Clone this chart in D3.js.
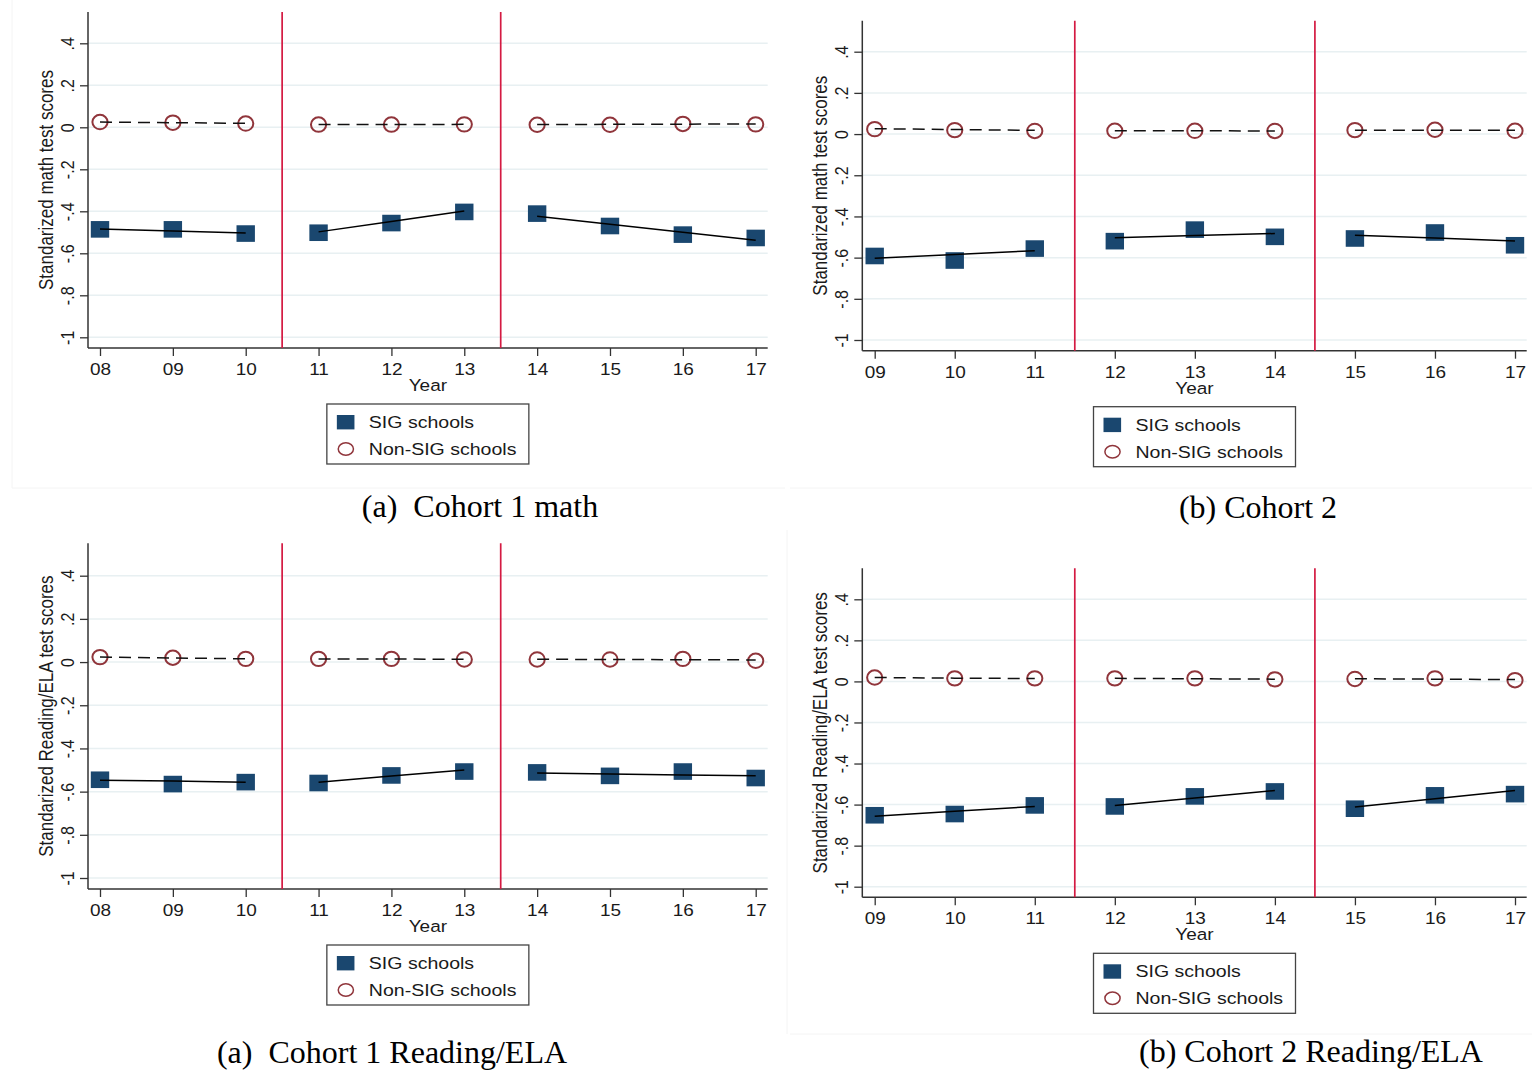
<!DOCTYPE html>
<html>
<head>
<meta charset="utf-8">
<script src="https://cdn.jsdelivr.net/npm/d3@7/dist/d3.min.js"></script>
<style>
  body { margin: 0; background: #fff; }
  svg text { font-family: Arial, "Liberation Sans", sans-serif; fill: #1a1a1a; }
  .caption { font-family: "Times New Roman", "Liberation Serif", serif; fill: #000; white-space: pre; }
</style>
</head>
<body>
<div id="chart"></div>
<script>
// years (two-digit school years) and policy cut points
const years1 = [8, 9, 10, 11, 12, 13, 14, 15, 16, 17];
const years2 = [9, 10, 11, 12, 13, 14, 15, 16, 17];
const cuts1 = [10.5, 13.5];
const cuts2 = [11.5, 14.5];
const yTicks = [-1, -0.8, -0.6, -0.4, -0.2, 0, 0.2, 0.4];

// cohort 1 math: group means and within-period linear fits
const mathC1Sig = [-0.486, -0.486, -0.506, -0.502, -0.456, -0.403, -0.411, -0.470, -0.511, -0.527];
const mathC1SigFit = [-0.484, -0.494, -0.503, -0.498, -0.449, -0.399, -0.424, -0.462, -0.500, -0.538];
const mathC1Non = [0.025, 0.022, 0.018, 0.013, 0.013, 0.014, 0.012, 0.012, 0.016, 0.014];
const mathC1NonFit = [0.025, 0.022, 0.019, 0.013, 0.013, 0.014, 0.013, 0.014, 0.015, 0.016];

// cohort 2 math
const mathC2Sig = [-0.592, -0.614, -0.556, -0.520, -0.464, -0.499, -0.507, -0.478, -0.540];
const mathC2SigFit = [-0.603, -0.585, -0.566, -0.504, -0.493, -0.483, -0.491, -0.505, -0.519];
const mathC2Non = [0.024, 0.019, 0.015, 0.016, 0.016, 0.015, 0.019, 0.021, 0.016];
const mathC2NonFit = [0.026, 0.022, 0.018, 0.016, 0.016, 0.015, 0.019, 0.018, 0.018];

// cohort 1 reading/ELA
const elaC1Sig = [-0.545, -0.565, -0.556, -0.560, -0.525, -0.507, -0.511, -0.527, -0.507, -0.537];
const elaC1SigFit = [-0.547, -0.551, -0.556, -0.557, -0.528, -0.500, -0.514, -0.518, -0.523, -0.527];
const elaC1Non = [0.023, 0.020, 0.015, 0.015, 0.015, 0.012, 0.012, 0.012, 0.015, 0.006];
const elaC1NonFit = [0.023, 0.019, 0.015, 0.014, 0.014, 0.013, 0.013, 0.012, 0.011, 0.010];

// cohort 2 reading/ELA
const elaC2Sig = [-0.652, -0.646, -0.604, -0.609, -0.560, -0.536, -0.620, -0.555, -0.549];
const elaC2SigFit = [-0.657, -0.633, -0.609, -0.604, -0.568, -0.531, -0.612, -0.572, -0.531];
const elaC2Non = [0.019, 0.015, 0.015, 0.015, 0.015, 0.010, 0.012, 0.015, 0.006];
const elaC2NonFit = [0.019, 0.016, 0.014, 0.015, 0.013, 0.011, 0.013, 0.011, 0.009];

const legendLabels = ["SIG schools", "Non-SIG schools"];

const NAVY = "#1a476f", MAROON = "#90353b", CUT = "#d41a42", GRID = "#e8f0f2";
const SX = 1.15; // the figure is stretched horizontally

const panels = [
  { years: years1, cuts: cuts1, sig: mathC1Sig, sigFit: mathC1SigFit, non: mathC1Non, nonFit: mathC1NonFit,
    yTitle: "Standarized math test scores", caption: "(a)  Cohort 1 math", capX: 480, capY: 517,
    x0: 100, x1: 755.7, left: 88, right: 767.7, yLow: 337.3, yHigh: 43.3, top: 12, bottom: 348 },
  { years: years2, cuts: cuts2, sig: mathC2Sig, sigFit: mathC2SigFit, non: mathC2Non, nonFit: mathC2NonFit,
    yTitle: "Standarized math test scores", caption: "(b) Cohort 2", capX: 1258, capY: 518,
    x0: 874.7, x1: 1515, left: 862.3, right: 1526.7, yLow: 340, yHigh: 51.7, top: 20.7, bottom: 350.7 },
  { years: years1, cuts: cuts1, sig: elaC1Sig, sigFit: elaC1SigFit, non: elaC1Non, nonFit: elaC1NonFit,
    yTitle: "Standarized Reading/ELA test scores", caption: "(a)  Cohort 1 Reading/ELA", capX: 392, capY: 1063,
    x0: 100, x1: 755.7, left: 88, right: 767.7, yLow: 878, yHigh: 575.7, top: 543.3, bottom: 889 },
  { years: years2, cuts: cuts2, sig: elaC2Sig, sigFit: elaC2SigFit, non: elaC2Non, nonFit: elaC2NonFit,
    yTitle: "Standarized Reading/ELA test scores", caption: "(b) Cohort 2 Reading/ELA", capX: 1311, capY: 1062,
    x0: 874.7, x1: 1515, left: 862.3, right: 1526.7, yLow: 886.7, yHigh: 599.3, top: 568.3, bottom: 897.3 }
];

const svg = d3.select("#chart").append("svg")
  .attr("width", 1532)
  .attr("height", 1072);

// faint borders of the original sub-figures
const faint = svg.append("g").attr("stroke", "#f4f4f4").attr("stroke-width", 1);
faint.append("line").attr("x1", 12).attr("x2", 785).attr("y1", 488).attr("y2", 488);
faint.append("line").attr("x1", 790).attr("x2", 1532).attr("y1", 488).attr("y2", 488);
faint.append("line").attr("x1", 790).attr("x2", 1532).attr("y1", 1034).attr("y2", 1034);
faint.append("line").attr("x1", 12).attr("x2", 12).attr("y1", 0).attr("y2", 488);
faint.append("line").attr("x1", 787).attr("x2", 787).attr("y1", 530).attr("y2", 1034);

const fmtY = d => d === 0 ? "0" : String(+d.toFixed(1)).replace("0.", ".");
const fmtX = d => String(d).padStart(2, "0");

panels.forEach(p => {
  const g = svg.append("g");
  const x = d3.scaleLinear().domain([p.years[0], p.years[p.years.length - 1]]).range([p.x0, p.x1]);
  const y = d3.scaleLinear().domain([-1, 0.4]).range([p.yLow, p.yHigh]);

  // gridlines
  g.append("g").selectAll("line").data(yTicks).join("line")
    .attr("x1", p.left).attr("x2", p.right)
    .attr("y1", d => y(d)).attr("y2", d => y(d))
    .attr("stroke", GRID).attr("stroke-width", 1.5);

  // y axis
  const yAxis = g.append("g").attr("transform", `translate(${p.left},0)`)
    .call(d3.axisLeft(y).tickValues(yTicks).tickFormat(fmtY).tickSize(8).tickSizeOuter(0));
  yAxis.select(".domain").remove();
  yAxis.selectAll(".tick line").attr("stroke", "#333").attr("stroke-width", 1.3);
  yAxis.selectAll(".tick text")
    .attr("x", null).attr("dy", null)
    .attr("text-anchor", "middle")
    .attr("font-size", 16)
    .attr("transform", "translate(-14,0) scale(" + SX + ",1) rotate(-90)");

  // x axis
  const xAxis = g.append("g").attr("transform", `translate(0,${p.bottom})`)
    .call(d3.axisBottom(x).tickValues(p.years).tickFormat(fmtX).tickSize(8).tickSizeOuter(0));
  xAxis.select(".domain").remove();
  xAxis.selectAll(".tick line").attr("stroke", "#333").attr("stroke-width", 1.3);
  xAxis.selectAll(".tick text")
    .attr("y", null).attr("dy", null)
    .attr("font-size", 16.5)
    .attr("transform", "translate(0,27) scale(" + SX + ",1)");

  // axis lines
  g.append("line").attr("x1", p.left).attr("x2", p.left).attr("y1", p.top).attr("y2", p.bottom)
    .attr("stroke", "#333").attr("stroke-width", 1.5);
  g.append("line").attr("x1", p.left).attr("x2", p.right).attr("y1", p.bottom).attr("y2", p.bottom)
    .attr("stroke", "#333").attr("stroke-width", 1.5);

  // cut lines
  g.append("g").selectAll("line").data(p.cuts).join("line")
    .attr("x1", d => x(d)).attr("x2", d => x(d))
    .attr("y1", p.top).attr("y2", p.bottom)
    .attr("stroke", CUT).attr("stroke-width", 1.7);

  // titles
  g.append("text")
    .attr("text-anchor", "middle").attr("font-size", 17)
    .attr("transform", `translate(${p.left - 35.5},${(p.top + p.bottom) / 2}) scale(${SX},1) rotate(-90)`)
    .text(p.yTitle);
  g.append("text")
    .attr("text-anchor", "middle").attr("font-size", 16.5)
    .attr("transform", `translate(${(p.left + p.right) / 2},${p.bottom + 43}) scale(${SX},1)`)
    .text("Year");

  const rows = p.years.map((yr, i) => ({ yr, sig: p.sig[i], sigFit: p.sigFit[i], non: p.non[i], nonFit: p.nonFit[i] }));

  // markers
  g.append("g").selectAll("rect").data(rows).join("rect")
    .attr("x", d => x(d.yr) - 9.2).attr("y", d => y(d.sig) - 8.3)
    .attr("width", 18.4).attr("height", 16.6)
    .attr("fill", NAVY);
  g.append("g").selectAll("ellipse").data(rows).join("ellipse")
    .attr("cx", d => x(d.yr)).attr("cy", d => y(d.non))
    .attr("rx", 7.6).attr("ry", 7.2)
    .attr("fill", "none").attr("stroke", MAROON).attr("stroke-width", 2);

  // fitted lines per period
  const bounds = [-Infinity, ...p.cuts, Infinity];
  for (let k = 0; k < bounds.length - 1; k++) {
    const seg = rows.filter(d => d.yr > bounds[k] && d.yr < bounds[k + 1]);
    g.append("path").datum(seg)
      .attr("d", d3.line().x(d => x(d.yr)).y(d => y(d.sigFit)))
      .attr("fill", "none").attr("stroke", "#000").attr("stroke-width", 1.5);
    g.append("path").datum(seg)
      .attr("d", d3.line().x(d => x(d.yr)).y(d => y(d.nonFit)))
      .attr("fill", "none").attr("stroke", "#111").attr("stroke-width", 1.5)
      .attr("stroke-dasharray", "12,7");
  }

  // legend
  const lw = 202, lh = 60;
  const lx = (p.left + p.right) / 2 - lw / 2, ly = p.bottom + 56;
  const lg = g.append("g").attr("transform", `translate(${lx},${ly})`);
  lg.append("rect").attr("width", lw).attr("height", lh)
    .attr("fill", "#fff").attr("stroke", "#444").attr("stroke-width", 1.3);
  lg.append("rect").attr("x", 10).attr("y", 11).attr("width", 17.6).attr("height", 14.4).attr("fill", NAVY);
  lg.append("ellipse").attr("cx", 19).attr("cy", 45).attr("rx", 7.6).attr("ry", 6.2)
    .attr("fill", "none").attr("stroke", MAROON).attr("stroke-width", 1.5);
  lg.selectAll("text.lab").data(legendLabels).join("text")
    .attr("class", "lab").attr("font-size", 17)
    .attr("transform", (d, i) => `translate(42,${i === 0 ? 24 : 51}) scale(${SX},1)`)
    .text(d => d);

  // caption
  svg.append("text").attr("class", "caption")
    .attr("x", p.capX).attr("y", p.capY)
    .attr("text-anchor", "middle").attr("font-size", 32)
    .text(p.caption);
});
</script>
</body>
</html>
